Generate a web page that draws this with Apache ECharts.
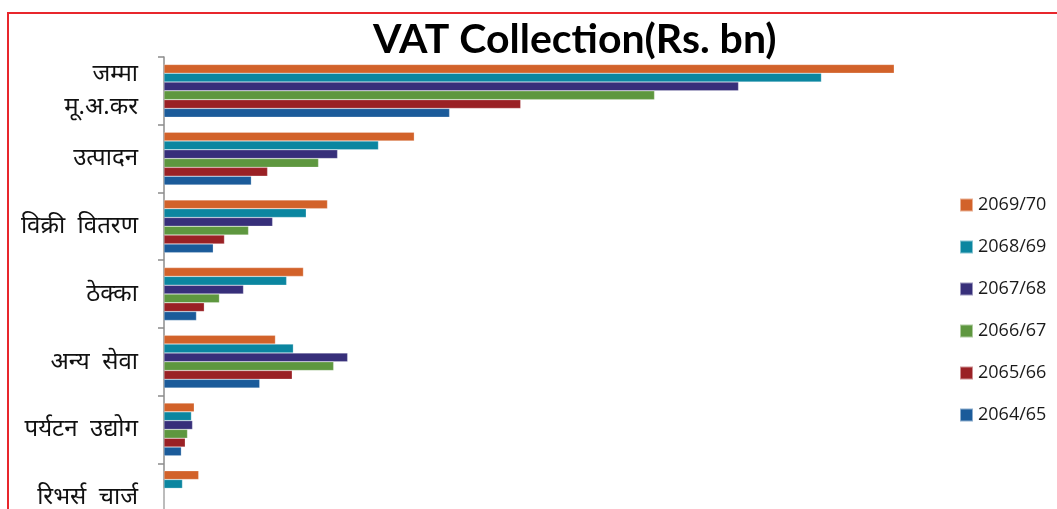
<!DOCTYPE html>
<html>
<head>
<meta charset="utf-8">
<script src="https://cdn.jsdelivr.net/npm/echarts@6/dist/echarts.min.js"></script>
<style>
  html, body { margin: 0; padding: 0; background: #fff; overflow: hidden; }
  /* chart is taller than the window: the bottom is cut off like in the picture */
  #chart { width: 1057px; height: 540px; }
</style>
</head>
<body>
<div id="chart"></div>
<script>
// categories, top to bottom
const categories = ['जम्मा\nमू.अ.कर', 'उत्पादन', 'विक्री  वितरण', 'ठेक्का', 'अन्य  सेवा', 'पर्यटन  उद्योग', 'रिभर्स  चार्ज']
const years = ['2069/70', '2068/69', '2067/68', '2066/67', '2065/66', '2064/65']
const colors = ['#d2622a', '#0b86a0', '#372f7a', '#5e973f', '#9a2125', '#1b5b9a']

// values in Rs. bn, one array per year
const y2069 = [130.4, 44.7, 29.2, 24.9, 19.9, 5.4, 6.2]
const y2068 = [117.4, 38.3, 25.4, 21.9, 23.1, 4.9, 3.3]
const y2067 = [102.6, 31.0, 19.4, 14.2, 32.8, 5.1, 0]
const y2066 = [87.6, 27.6, 15.1, 9.9, 30.3, 4.2, 0]
const y2065 = [63.7, 18.5, 10.8, 7.2, 22.9, 3.8, 0]
const y2064 = [51.0, 15.6, 8.8, 5.8, 17.1, 3.1, 0]
const values = [y2069, y2068, y2067, y2066, y2065, y2064]

const chart = echarts.init(document.getElementById('chart'))

const option = {
  animation: false,
  title: {
    text: 'VAT Collection(Rs. bn)',
    left: 368,
    top: 14,
    textStyle: {
      fontFamily: 'Lato',
      fontWeight: 'bold',
      fontSize: 41,
      color: '#000'
    }
  },
  // red frame round the picture
  graphic: [{
    type: 'rect',
    shape: { x: 8, y: 13, width: 1200, height: 700 },
    style: { fill: 'none', stroke: '#e8262c', lineWidth: 2 },
    silent: true
  }],
  legend: {
    orient: 'vertical',
    left: 954,
    top: 191,
    itemWidth: 13,
    itemHeight: 13,
    itemGap: 24,
    icon: 'rect',
    data: years,
    textStyle: { fontFamily: 'Open Sans', fontSize: 18, fontWeight: 500, color: '#1a1a1a' }
  },
  grid: {
    left: 164,
    top: 57,
    width: 784,
    height: 474,
    containLabel: false
  },
  xAxis: {
    type: 'value',
    min: 0,
    max: 140,
    show: false
  },
  yAxis: {
    type: 'category',
    inverse: true,
    data: categories,
    axisLine: { lineStyle: { color: '#8c8c8c', width: 1.5 } },
    axisTick: { show: true, length: 6, inside: false, lineStyle: { color: '#8c8c8c', width: 1.5 } },
    axisLabel: {
      margin: 26,
      fontFamily: 'Noto Sans, serif',
      fontSize: 24,
      lineHeight: 33,
      color: '#111'
    }
  },
  series: years.map((name, i) => ({
    name: name,
    type: 'bar',
    data: values[i],
    barGap: '0%',
    barCategoryGap: '22%',
    itemStyle: { color: colors[i], borderColor: 'rgba(255,255,255,0.5)', borderWidth: 0.5 }
  }))
}

chart.setOption(option)
</script>
</body>
</html>
